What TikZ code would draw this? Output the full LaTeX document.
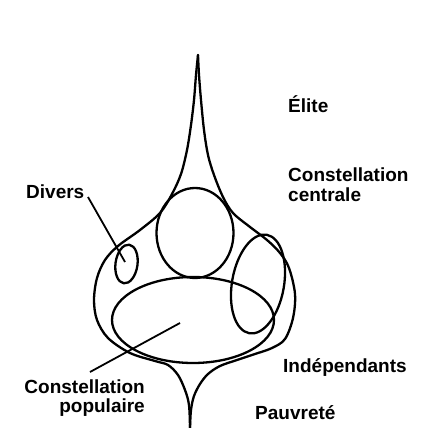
\documentclass[tikz,border=0pt]{standalone}
\usepackage{fontspec}
\setmainfont{Liberation Sans}
\begin{document}
\begin{tikzpicture}[x=1pt,y=-1pt,
  shape line/.style={line width=2.3pt,line join=round,line cap=round},
  leader/.style={line width=1.8pt},
  lbl/.style={inner sep=0pt,font=\fontsize{19}{18}\selectfont\bfseries}]
\useasboundingbox (0,0) rectangle (437,428);
% outer drop shape: left half
\draw[shape line] plot[smooth,tension=0.55] coordinates {
 (198,55) (196,75) (194,100) (191,125) (187,150) (181,174) (172,194)
 (160,213) (140,230) (118,246) (105,260) (97,278) (94,300) (97,320)
 (108,338) (130,353) (155,361) (168,365) (178,375) (185,390) (189,405) (190,428)};
% outer drop shape: right half
\draw[shape line] plot[smooth,tension=0.55] coordinates {
 (190,428) (191,410) (194,396) (200,384) (208,374) (220,366) (237,360)
 (255,354) (272,348) (285,339) (293,318) (295,294) (289,268) (280,253)
 (267,240) (250,227) (233,213) (223,197) (214,175) (208,155) (204,130)
 (201,100) (199,75) (198,55)};
% constellations
\draw[shape line] (195,233) ellipse [x radius=38.5pt, y radius=45pt];
\draw[shape line] (193,320) ellipse [x radius=81pt, y radius=43pt];
\draw[shape line,rotate around={-10:(258,284)}] (258,284) ellipse [x radius=26pt, y radius=50pt];
\draw[shape line,rotate around={-8:(126.5,264)}] (126.5,264) ellipse [x radius=11pt, y radius=19.5pt];
% labels
\node[lbl,anchor=base west] (elite) at (288,113) {Élite};
\node[lbl,anchor=base west] (centrale) at (288,182) {\begin{tabular}[t]{@{}l@{}}Constellation\\centrale\end{tabular}};
\node[lbl,anchor=base west] (divers) at (26,198) {Divers};
\node[lbl,anchor=base east] (populaire) at (145,393) {\begin{tabular}[t]{@{}r@{}}Constellation\\populaire\end{tabular}};
\node[lbl,anchor=base west] (indep) at (283,372) {Indépendants};
\node[lbl,anchor=base west] (pauv) at (255,419) {Pauvreté};
% leaders
\coordinate (dvA) at (88,197);
\coordinate (dvB) at (125,262);
\coordinate (ppA) at (180,323);
\coordinate (ppB) at (90,372);
\draw[leader] (dvA) -- (dvB);
\draw[leader] (ppA) -- (ppB);
\end{tikzpicture}
\end{document}
